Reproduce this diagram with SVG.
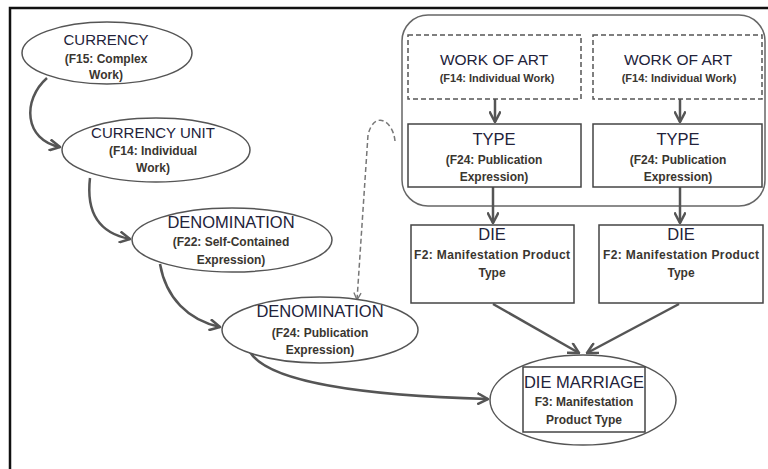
<svg xmlns="http://www.w3.org/2000/svg" width="768" height="469" viewBox="0 0 768 469">
<style>
.bg{fill:#fff}
.frame{stroke:#111;stroke-width:2.5;fill:none}
.ell{fill:#fff;stroke:#555;stroke-width:1.5}
.box{fill:#fff;stroke:#444;stroke-width:1.5}
.dbox{fill:#fff;stroke:#555;stroke-width:1.5;stroke-dasharray:5,3}
.cont{fill:none;stroke:#666;stroke-width:1.5}
.t{font-family:"Liberation Sans",Arial,sans-serif;font-size:16.5px;fill:#22223a;text-anchor:middle}
.s{font-family:"Liberation Sans",Arial,sans-serif;font-size:12px;font-weight:bold;fill:#3a3630;text-anchor:middle}
.c{fill:none;stroke:#555;stroke-width:2.5}
.d{fill:none;stroke:#777;stroke-width:1.5;stroke-dasharray:5,3}
</style>
<defs>
<marker id="ah" viewBox="0 0 10 10" refX="9" refY="5" markerWidth="5" markerHeight="5" markerUnits="strokeWidth" orient="auto">
<path d="M0.5,0.5 L9,5 L0.5,9.5" fill="none" stroke="#555" stroke-width="2"/>
</marker>
<marker id="ahd" viewBox="0 0 10 10" refX="9" refY="5" markerWidth="6" markerHeight="6" markerUnits="strokeWidth" orient="auto">
<path d="M1,1 L9,5 L1,9" fill="none" stroke="#777" stroke-width="1.5"/>
</marker>
</defs>
<rect class="bg" x="0" y="0" width="768" height="469"/>
<path class="frame" d="M10,469 L10,8 L768,8"/>

<g id="container">
<rect class="cont" x="402" y="15" width="363" height="191" rx="26" ry="26"/>
</g>

<g id="connectors">
<path class="c" d="M47,78 C22,100 24,140 60,147" marker-end="url(#ah)"/>
<path class="c" d="M90,178 C86,212 98,233 130,239" marker-end="url(#ah)"/>
<path class="c" d="M160,264 C166,298 188,320 220,327" marker-end="url(#ah)"/>
<path class="c" d="M250,352 C270,385 380,396 488,399" marker-end="url(#ah)"/>
<path class="c" d="M495,99 L495,122" marker-end="url(#ah)"/>
<path class="c" d="M680,99 L680,122" marker-end="url(#ah)"/>
<path class="c" d="M493,187 L493,223" marker-end="url(#ah)"/>
<path class="c" d="M680,187 L680,223" marker-end="url(#ah)"/>
<path class="c" d="M493,304 L579,353" marker-end="url(#ah)"/>
<path class="c" d="M679,304 L587,353" marker-end="url(#ah)"/>
<path class="d" d="M395,141 C393,120 374,110 368,135 L357,300" marker-end="url(#ahd)"/>
</g>

<g id="currency">
<ellipse class="ell" cx="107" cy="53" rx="85" ry="31"/>
<text class="t" x="106" y="45" style="font-size:15px">CURRENCY</text>
<text class="s" x="106" y="63">(F15: Complex</text>
<text class="s" x="106" y="79">Work)</text>
</g>

<g id="currency-unit">
<ellipse class="ell" cx="156" cy="150" rx="94" ry="32"/>
<text class="t" x="153" y="138" style="font-size:15px">CURRENCY  UNIT</text>
<text class="s" x="153" y="155">(F14: Individual</text>
<text class="s" x="153" y="172">Work)</text>
</g>

<g id="denomination-f22">
<ellipse class="ell" cx="232" cy="240" rx="100" ry="32"/>
<text class="t" x="231" y="228">DENOMINATION</text>
<text class="s" x="231" y="246">(F22: Self-Contained</text>
<text class="s" x="231" y="264">Expression)</text>
</g>

<g id="denomination-f24">
<ellipse class="ell" cx="320" cy="330" rx="98" ry="33"/>
<text class="t" x="320" y="317">DENOMINATION</text>
<text class="s" x="320" y="337">(F24: Publication</text>
<text class="s" x="320" y="354">Expression)</text>
</g>

<g id="work-of-art-1">
<rect class="dbox" x="408" y="35" width="173" height="64"/>
<text class="t" x="494" y="65" style="font-size:15.5px">WORK OF ART</text>
<text class="s" x="497" y="82" style="font-size:11px">(F14: Individual  Work)</text>
</g>

<g id="work-of-art-2">
<rect class="dbox" x="593" y="35" width="169" height="64"/>
<text class="t" x="678" y="65" style="font-size:15.5px">WORK OF ART</text>
<text class="s" x="679" y="82" style="font-size:11px">(F14: Individual  Work)</text>
</g>

<g id="type-1">
<rect class="box" x="408" y="124" width="173" height="63"/>
<text class="t" x="494" y="145">TYPE</text>
<text class="s" x="494" y="164">(F24: Publication</text>
<text class="s" x="494" y="181">Expression)</text>
</g>

<g id="type-2">
<rect class="box" x="593" y="124" width="169" height="63"/>
<text class="t" x="678" y="145">TYPE</text>
<text class="s" x="678" y="164">(F24: Publication</text>
<text class="s" x="678" y="181">Expression)</text>
</g>

<g id="die-1">
<rect class="box" x="411" y="225" width="163" height="78"/>
<text class="t" x="492" y="240">DIE</text>
<text class="s" x="492" y="259" textLength="156" lengthAdjust="spacing">F2: Manifestation  Product</text>
<text class="s" x="492" y="277">Type</text>
</g>

<g id="die-2">
<rect class="box" x="599" y="225" width="164" height="78"/>
<text class="t" x="681" y="240">DIE</text>
<text class="s" x="681" y="259" textLength="156" lengthAdjust="spacing">F2: Manifestation  Product</text>
<text class="s" x="681" y="277">Type</text>
</g>

<g id="die-marriage">
<ellipse class="ell" cx="583" cy="400" rx="93" ry="45"/>
<rect class="box" x="523" y="367" width="122" height="65"/>
<text class="t" x="584" y="388">DIE MARRIAGE</text>
<text class="s" x="584" y="406">F3: Manifestation</text>
<text class="s" x="584" y="424">Product Type</text>
</g>
</svg>
